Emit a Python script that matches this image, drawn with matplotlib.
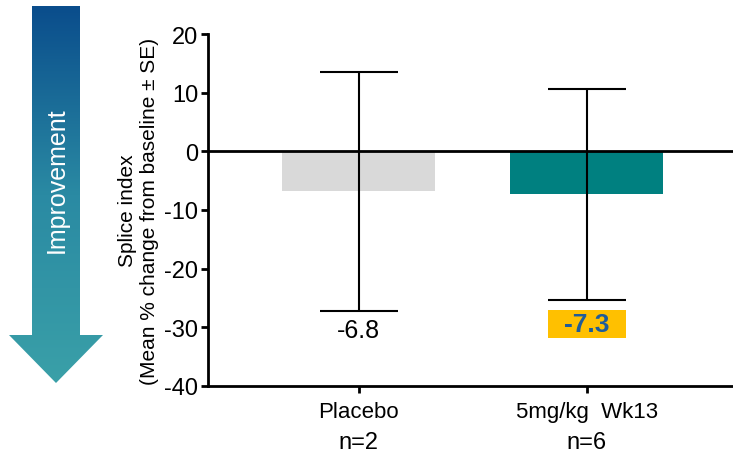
import numpy as np
import matplotlib.pyplot as plt
from matplotlib.patches import Polygon, Rectangle
from matplotlib.transforms import blended_transform_factory
from matplotlib.colors import LinearSegmentedColormap

plt.rcParams['font.family'] = ['Liberation Sans', 'DejaVu Sans']
plt.rcParams['axes.unicode_minus'] = False

# data
groups = ['Placebo', '5mg/kg  Wk13']
n_labels = ['n=2', 'n=6']
means = [-6.8, -7.3]
se_upper = [13.5, 10.6]
se_lower = [-27.3, -25.3]
bar_colors = ['#d9d9d9', '#008080']

fig = plt.figure(figsize=(7.33, 4.6), dpi=100)

# gradient "Improvement" arrow, drawn in pixel units
ax_arr = fig.add_axes([0, 0, 110 / 733, 1])
ax_arr.set_xlim(0, 110)
ax_arr.set_ylim(460, 0)
ax_arr.axis('off')
cmap = LinearSegmentedColormap.from_list('arr', ['#0a4d8c', '#2a8aa3', '#3aa0a8'])
grad = np.linspace(0, 1, 256).reshape(-1, 1)
im = ax_arr.imshow(grad, cmap=cmap, extent=[0, 110, 384, 7], aspect='auto')
arrow = Polygon([[32, 7], [80, 7], [80, 336], [103, 336], [56, 384],
                 [9, 336], [32, 336]], closed=True, transform=ax_arr.transData,
                facecolor='none', edgecolor='none')
ax_arr.add_patch(arrow)
im.set_clip_path(arrow)
ax_arr.text(57, 180, 'Improvement', color='white', fontsize=18, rotation=90,
            ha='center', va='center')

# main chart
ax = fig.add_axes([208 / 733, 73 / 460, 525 / 733, 352 / 460])
x = np.arange(len(groups))
ax.bar(x, means, width=0.67, color=bar_colors, zorder=2)
yerr = [np.array(means) - np.array(se_lower), np.array(se_upper) - np.array(means)]
ax.errorbar(x, means, yerr=yerr, fmt='none', ecolor='black', elinewidth=1.5,
            capsize=28, capthick=1.5, zorder=3)
ax.axhline(0, color='black', lw=2, zorder=4)

ax.set_xlim(-0.66, 1.64)
ax.set_ylim(-40, 20)
ax.set_yticks(range(-40, 21, 10))
ax.set_xticks(x)
ax.set_xticklabels(groups, fontsize=16)
ax.tick_params(axis='y', labelsize=17, width=2, length=5, pad=2)
ax.tick_params(axis='x', width=2, length=5, pad=6)
for s in ['top', 'right']:
    ax.spines[s].set_visible(False)
for s in ['left', 'bottom']:
    ax.spines[s].set_linewidth(2)
ax.set_ylabel('Splice index\n(Mean % change from baseline \u00b1 SE)', fontsize=15,
              labelpad=4, linespacing=1.2)

trans = blended_transform_factory(ax.transData, ax.transAxes)
for xi, n in zip(x, n_labels):
    ax.text(xi, -0.16, n, transform=trans, ha='center', va='center', fontsize=17)

ax.text(x[0], -30.4, f'{means[0]}', ha='center', va='center', fontsize=18)
ax.add_patch(Rectangle((x[1] - 0.17, -31.9), 0.34, 4.9, facecolor='#ffc000',
                       edgecolor='none', zorder=3))
ax.text(x[1], -29.5, f'{means[1]}', ha='center', va='center', fontsize=19,
        fontweight='bold', color='#1f5c99', zorder=4)

fig.savefig('out.png', dpi=100)
